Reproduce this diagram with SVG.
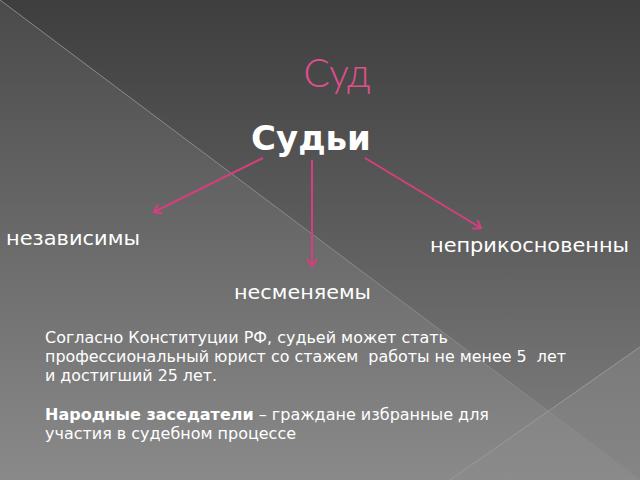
<svg xmlns="http://www.w3.org/2000/svg" width="640" height="480" viewBox="0 0 640 480">
<defs>
<linearGradient id="bgTop" x1="0" y1="0" x2="0" y2="1">
<stop offset="0" stop-color="#3e3e3e"/>
<stop offset="0.5" stop-color="#5e5e5e"/>
<stop offset="1" stop-color="#828282"/>
</linearGradient>
<linearGradient id="bgLeft" x1="0" y1="0" x2="0" y2="1">
<stop offset="0" stop-color="#4a4a4a"/>
<stop offset="0.5" stop-color="#6a6a6a"/>
<stop offset="1" stop-color="#8a8a8a"/>
</linearGradient>
<marker id="ah" markerWidth="12" markerHeight="12" refX="9" refY="6" orient="auto" markerUnits="userSpaceOnUse">
<path d="M2,1 L9,6 L2,11" fill="none" stroke="#d63f7c" stroke-width="2"/>
</marker>
<style>
.lbl{font-family:"DejaVu Sans","Liberation Sans",sans-serif;font-size:20px;fill:#ffffff}
.body{font-family:"DejaVu Sans","Liberation Sans",sans-serif;font-size:15.5px;fill:#ffffff;white-space:pre}
.conn{stroke:#d63f7c;stroke-width:2;fill:none;marker-end:url(#ah)}
</style>
</defs>
<rect width="640" height="480" fill="url(#bgTop)"/>
<polygon points="0,0 640,480 0,480" fill="url(#bgLeft)"/>
<polygon points="640,347 450,480 640,480" fill="#8c8c8c" opacity="0.4"/>
<line x1="0" y1="0" x2="640" y2="480" stroke="#8a8a8a" stroke-width="1"/>
<line x1="640" y1="347" x2="450" y2="480" stroke="#9a9a9a" stroke-width="1"/>
<text x="337" y="87" text-anchor="middle" font-family="Lato,'Open Sans',sans-serif" font-weight="300" font-size="39" fill="#e0508c">Суд</text>
<g id="judges"><text x="311" y="150" text-anchor="middle" font-family="'DejaVu Sans','Liberation Sans',sans-serif" font-weight="bold" font-size="34" fill="#ffffff">Судьи</text></g>
<g id="connectors">
<line class="conn" x1="263" y1="158" x2="154" y2="212"/>
<line class="conn" x1="312" y1="160" x2="312" y2="266"/>
<line class="conn" x1="365" y1="158" x2="481" y2="228"/>
</g>
<g id="independent"><text class="lbl" x="6" y="245" textLength="134" lengthAdjust="spacingAndGlyphs">независимы</text></g>
<g id="inviolable"><text class="lbl" x="430" y="252" textLength="199" lengthAdjust="spacingAndGlyphs">неприкосновенны</text></g>
<g id="irremovable"><text class="lbl" x="234" y="299" textLength="137" lengthAdjust="spacingAndGlyphs">несменяемы</text></g>
<g id="note">
<text class="body" x="45" y="343" textLength="403" lengthAdjust="spacingAndGlyphs">Согласно Конституции РФ, судьей может стать</text>
<text class="body" x="45" y="362" textLength="521" lengthAdjust="spacingAndGlyphs">профессиональный юрист со стажем  работы не менее 5  лет</text>
<text class="body" x="45" y="381" textLength="172" lengthAdjust="spacingAndGlyphs">и достигший 25 лет.</text>
<text class="body" x="45" y="420" textLength="444" lengthAdjust="spacingAndGlyphs"><tspan font-weight="bold">Народные заседатели</tspan> – граждане избранные для</text>
<text class="body" x="45" y="439" textLength="251" lengthAdjust="spacingAndGlyphs">участия в судебном процессе</text>
</g>
</svg>
